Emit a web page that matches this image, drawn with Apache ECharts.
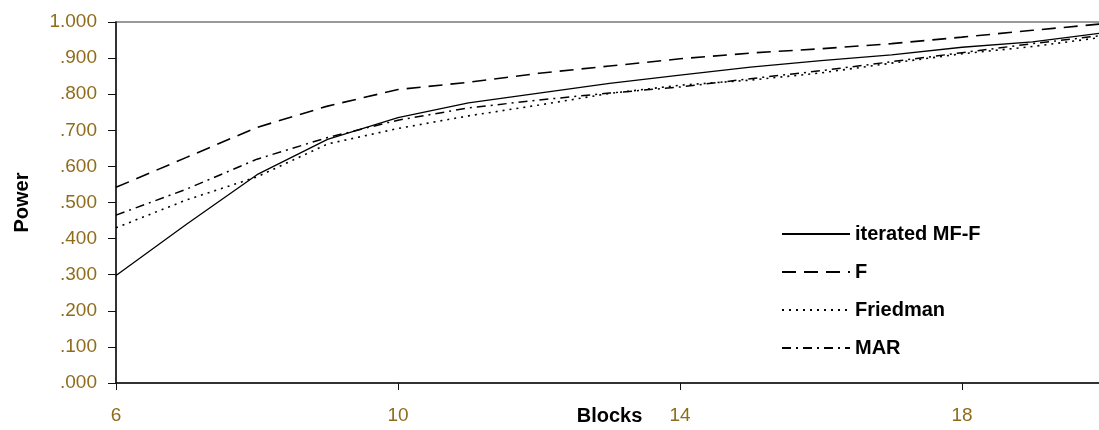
<!DOCTYPE html>
<html>
<head>
<meta charset="utf-8">
<title>Power by Blocks</title>
<script src="https://cdn.jsdelivr.net/npm/echarts@6/dist/echarts.min.js"></script>
<style>
  html, body { margin: 0; padding: 0; background: #fff; }
  #chart { width: 1099px; height: 430px; }
</style>
</head>
<body>
<div id="chart"></div>
<script>
// Number of blocks on the horizontal axis
const blocks = [6, 7, 8, 9, 10, 11, 12, 13, 14, 15, 16, 17, 18, 19, 20];

// Power of each test
const iteratedMFF = [0.298, 0.440, 0.577, 0.675, 0.735, 0.776, 0.803, 0.830, 0.853, 0.875, 0.893, 0.909, 0.930, 0.945, 0.970];
const fTest       = [0.542, 0.625, 0.708, 0.767, 0.813, 0.833, 0.858, 0.878, 0.898, 0.914, 0.926, 0.940, 0.958, 0.977, 0.995];
const friedman    = [0.430, 0.507, 0.571, 0.662, 0.705, 0.740, 0.770, 0.802, 0.825, 0.839, 0.859, 0.886, 0.912, 0.932, 0.958];
const mar         = [0.465, 0.537, 0.620, 0.680, 0.728, 0.762, 0.784, 0.803, 0.820, 0.843, 0.865, 0.890, 0.915, 0.940, 0.963];

const seriesNames = ['iterated MF-F', 'F', 'Friedman', 'MAR'];

const FONT = '"Liberation Sans", Arial, sans-serif';
const LABEL_COLOR = '#8f6c1c';

function pairs(values) {
  return blocks.map((b, i) => [b, values[i]]);
}

function lineSeries(name, values, dash, width) {
  return {
    name: name,
    type: 'line',
    data: pairs(values),
    symbol: 'none',
    smooth: false,
    animation: false,
    color: '#000',
    lineStyle: { color: '#000', width: width, type: dash }
  };
}

const chart = echarts.init(document.getElementById('chart'), null, { renderer: 'canvas' });

chart.setOption({
  backgroundColor: '#fff',
  animation: false,
  grid: {
    left: 116, top: 22, right: -4, bottom: 47,
    containLabel: false,
    outerBoundsMode: 'none',
    show: true, borderColor: '#9a9a9a', borderWidth: 2, backgroundColor: 'transparent'
  },
  xAxis: {
    type: 'value',
    min: 6, max: 20, interval: 4,
    name: 'Blocks',
    nameLocation: 'middle',
    nameGap: 23,
    nameMoveOverlap: false,
    nameTextStyle: { fontFamily: FONT, fontSize: 20, fontWeight: 'bold', color: '#000', verticalAlign: 'top' },
    axisLine: { show: true, onZero: false, lineStyle: { color: '#111', width: 1.5 } },
    axisTick: { show: true, inside: false, length: 7, lineStyle: { color: '#111', width: 1 } },
    axisLabel: {
      margin: 23,
      fontFamily: FONT, fontSize: 19, color: LABEL_COLOR,
      formatter: v => (v === 20 ? '' : String(v))
    },
    splitLine: { show: false }
  },
  yAxis: {
    type: 'value',
    min: 0, max: 1, interval: 0.1,
    name: 'Power',
    nameLocation: 'middle',
    nameRotate: 90,
    nameGap: 94,
    nameMoveOverlap: false,
    nameTextStyle: { fontFamily: FONT, fontSize: 20, fontWeight: 'bold', color: '#000', verticalAlign: 'middle' },
    axisLine: { show: true, onZero: false, lineStyle: { color: '#111', width: 1.5 } },
    axisTick: { show: true, inside: false, length: 8, lineStyle: { color: '#111', width: 1 } },
    axisLabel: {
      margin: 19,
      fontFamily: FONT, fontSize: 19, color: LABEL_COLOR,
      formatter: v => {
        const s = Number(v).toFixed(3);
        return s.startsWith('0') ? s.slice(1) : s;
      }
    },
    splitLine: { show: false }
  },
  legend: {
    orient: 'vertical',
    left: 776, top: 219,
    itemWidth: 68, itemHeight: 20, itemGap: 18,
    data: seriesNames,
    itemStyle: { opacity: 0 },
    textStyle: { fontFamily: FONT, fontSize: 20, fontWeight: 'bold', color: '#000' },
    selectedMode: false
  },
  series: [
    lineSeries(seriesNames[0], iteratedMFF, 'solid', 1.3),
    lineSeries(seriesNames[1], fTest, [14, 8], 1.6),
    lineSeries(seriesNames[2], friedman, [2, 5], 1.6),
    lineSeries(seriesNames[3], mar, [9, 5, 2, 5], 1.5)
  ]
});
</script>
</body>
</html>
